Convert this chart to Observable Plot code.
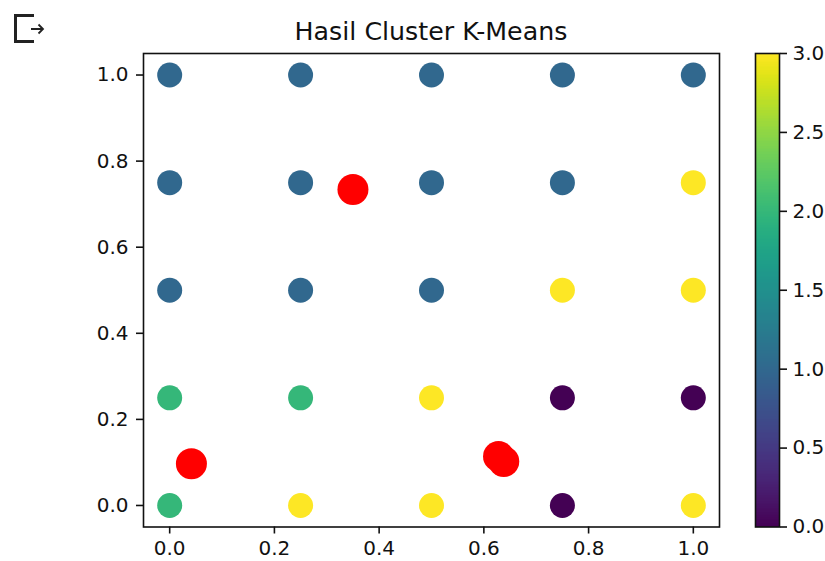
<!DOCTYPE html>
<html>
<head>
<meta charset="utf-8">
<script src="https://cdn.jsdelivr.net/npm/d3@7"></script>
<script src="https://cdn.jsdelivr.net/npm/@observablehq/plot@0.6"></script>
<style>
  html, body { margin: 0; padding: 0; background: #fff; }
  #wrap { position: relative; width: 825px; height: 561px; overflow: hidden; font-family: "DejaVu Sans", sans-serif; }
  #wrap svg { position: absolute; }
  #title { position: absolute; left: 143px; width: 576px; top: 17px; text-align: center; font-size: 25.3px; color: #111; line-height: 30px; }
</style>
</head>
<body>
<div id="wrap">
  <svg id="icon" width="50" height="50" style="left:0;top:0">
    <path d="M34,15.5 H15.5 V41.5 H34" fill="none" stroke="#222" stroke-width="3"/>
    <path d="M31,29 H43 M38.5,24.5 L43,29 L38.5,33.5" fill="none" stroke="#222" stroke-width="1.8"/>
  </svg>
  <div id="title">Hasil Cluster K-Means</div>
</div>
<script>
// ---- data ----
const gridX = [0, 0.25, 0.5, 0.75, 1];
const gridY = [1, 0.75, 0.5, 0.25, 0];
// cluster label per row (rows follow gridY, columns follow gridX)
const clusterRow1 = [1, 1, 1, 1, 1];
const clusterRow2 = [1, 1, 1, 1, 3];
const clusterRow3 = [1, 1, 1, 3, 3];
const clusterRow4 = [2, 2, 3, 0, 0];
const clusterRow5 = [2, 3, 3, 0, 3];
const centroidX = [0.0415, 0.350, 0.628, 0.638];
const centroidY = [0.097, 0.734, 0.114, 0.102];
const xTicks = [0, 0.2, 0.4, 0.6, 0.8, 1.0];
const yTicks = [0, 0.2, 0.4, 0.6, 0.8, 1.0];
const cbarTicks = [0, 0.5, 1, 1.5, 2, 2.5, 3];

const clusterRows = [clusterRow1, clusterRow2, clusterRow3, clusterRow4, clusterRow5];
const points = [];
clusterRows.forEach((row, i) => row.forEach((c, j) => points.push({x: gridX[j], y: gridY[i], c})));
const centroids = centroidX.map((x, i) => ({x, y: centroidY[i]}));

const colorOpts = {type: "linear", scheme: "viridis", domain: [0, 3]};
const textStyle = {fontFamily: "DejaVu Sans, sans-serif", fontSize: "20px", color: "#111", background: "transparent", overflow: "visible"};

const main = Plot.plot({
  width: 825,
  height: 561,
  marginLeft: 143,
  marginRight: 106,
  marginTop: 53,
  marginBottom: 34.5,
  style: textStyle,
  x: {domain: [-0.05, 1.05]},
  y: {domain: [-0.05, 1.05]},
  color: colorOpts,
  marks: [
    Plot.axisX({ticks: xTicks, tickFormat: d3.format(".1f"), tickSize: 7, tickPadding: 7, strokeWidth: 1.6, label: null}),
    Plot.axisY({ticks: yTicks, tickFormat: d3.format(".1f"), tickSize: 7, tickPadding: 8, strokeWidth: 1.6, label: null}),
    Plot.dot(points, {x: "x", y: "y", fill: "c", r: 12.5}),
    Plot.dot(centroids, {x: "x", y: "y", fill: "red", r: 15.5}),
    Plot.frame({stroke: "#111", strokeWidth: 1.6})
  ]
});
main.style.left = "0px";
main.style.top = "0px";

const steps = d3.range(0, 3, 0.01);
const cbar = Plot.plot({
  width: 80,
  height: 561,
  marginLeft: 10,
  marginRight: 46,
  marginTop: 53,
  marginBottom: 34.5,
  style: textStyle,
  x: {domain: [0, 1], axis: null},
  y: {domain: [0, 3]},
  color: colorOpts,
  marks: [
    Plot.rect(steps, {x1: 0, x2: 1, y1: d => d, y2: d => Math.min(3, d + 0.02), fill: d => d + 0.005, shapeRendering: "crispEdges"}),
    Plot.axisY({anchor: "right", ticks: cbarTicks, tickFormat: d3.format(".1f"), tickSize: 7, tickPadding: 6, strokeWidth: 1.6, label: null}),
    Plot.frame({stroke: "#111", strokeWidth: 1.6})
  ]
});
cbar.style.left = "745px";
cbar.style.top = "0px";

const wrap = document.getElementById("wrap");
wrap.appendChild(main);
wrap.appendChild(cbar);
</script>
</body>
</html>
